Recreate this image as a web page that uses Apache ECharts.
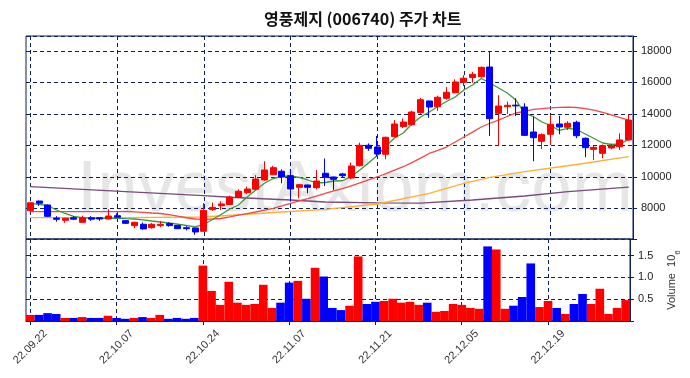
<!DOCTYPE html>
<html>
<head>
<meta charset="utf-8">
<script src="https://cdn.jsdelivr.net/npm/echarts@6/dist/echarts.min.js"></script>
<style>
  html, body { margin: 0; padding: 0; background: #fff; }
  #echarts-candle { width: 690px; height: 378px; }
</style>
</head>
<body>
<div id="echarts-candle"></div>
<script>
//----------------------Data----------------------
let date_list = ['22.09.22','22.09.23','22.09.26','22.09.27','22.09.28','22.09.29','22.09.30','22.10.04','22.10.05','22.10.06',
    '22.10.07','22.10.11','22.10.12','22.10.13','22.10.14','22.10.17','22.10.18','22.10.19','22.10.20','22.10.21',
    '22.10.24','22.10.25','22.10.26','22.10.27','22.10.28','22.10.31','22.11.01','22.11.02','22.11.03','22.11.04',
    '22.11.07','22.11.08','22.11.09','22.11.10','22.11.11','22.11.14','22.11.15','22.11.16','22.11.17','22.11.18',
    '22.11.21','22.11.22','22.11.23','22.11.24','22.11.25','22.11.28','22.11.29','22.11.30','22.12.01','22.12.02',
    '22.12.05','22.12.06','22.12.07','22.12.08','22.12.09','22.12.12','22.12.13','22.12.14','22.12.15','22.12.16',
    '22.12.19','22.12.20','22.12.21','22.12.22','22.12.23','22.12.26','22.12.27','22.12.28','22.12.29','23.01.02'];

let open_list = [7850,8460,8210,7380,7240,7400,7110,7400,7400,7320,
    7530,7213,6900,6985,6770,6900,7030,6920,6770,6750,
    6540,7910,8165,8240,8700,8990,9207,9800,10133,10350,
    10070,9333,9480,9310,10222,9988,10180,9924,10705,12000,
    11892,11430,12548,13185,13310,14070,14813,14450,14985,15340,
    16000,16300,16355,16970,14030,14450,14550,14430,12845,12255,
    12700,13353,13145,13460,12445,11745,11490,11830,11910,12340];
let close_list = [8350,8320,7490,7300,7365,7310,7400,7310,7320,7510,
    7430,7047,7110,6690,6985,6985,6900,6705,6705,6495,
    7870,8060,8273,8720,9080,9225,9860,10432,10580,9990,
    9225,9500,9333,9733,9968,9840,10070,10686,12000,11810,
    11448,12508,13353,13480,14115,14896,14430,15050,15366,16020,
    16260,16510,16950,13690,14495,14540,14500,12630,12483,12675,
    13334,13163,13400,12610,11850,11870,11975,11975,12340,13600];
let low_list = [7840,8150,7460,7150,7080,7250,7100,7200,7200,7300,
    7400,7000,6730,6650,6700,6800,6830,6690,6600,6320,
    6495,7850,7890,8200,8650,8900,9150,9750,10100,9590,
    8422,8635,8950,9200,9415,9162,9950,9850,10650,11650,
    11300,11110,12500,13100,13250,14000,13753,14180,14900,15300,
    15760,15975,16300,12590,11956,13990,13860,12590,10985,11765,
    12040,12700,12972,12450,11240,11066,11175,11750,11700,12300];
let high_list = [8380,8480,8240,7500,7400,7500,7530,7500,7450,7936,
    7680,7250,7150,7100,7060,7190,7110,6940,6860,6770,
    8320,8360,8445,8800,9200,9380,10100,10985,10700,10476,
    10432,9520,9500,10430,11160,10000,10250,10900,12166,12120,
    12590,12550,13600,13700,14200,15000,14850,15150,15700,16190,
    16450,16650,17000,17990,15175,14770,14985,14670,13815,12750,
    13945,13880,13524,13560,12500,11950,12050,12100,12760,13970];

// volume, unit 10^6 shares
let volume_list = [0.14,0.14,0.18,0.16,0.07,0.07,0.09,0.07,0.07,0.12,
    0.07,0.05,0.07,0.09,0.07,0.14,0.05,0.07,0.05,0.07,
    1.27,0.69,0.37,0.90,0.42,0.37,0.39,0.83,0.30,0.42,
    0.88,0.92,0.51,1.22,1.02,0.30,0.25,0.35,1.48,0.39,
    0.44,0.46,0.51,0.42,0.44,0.37,0.42,0.21,0.23,0.39,
    0.37,0.30,0.28,1.71,1.64,0.28,0.35,0.55,1.32,0.32,
    0.46,0.30,0.16,0.39,0.62,0.39,0.74,0.16,0.30,0.48];

let ma5_list = [8317,8250,8178,7892,7670,7480,7403,7380,7365,7365,
    7365,7340,7320,7260,7194,7130,7067,7000,6908,6813,
    6971,7289,7606,7955,8210,8717,9162,9587,9892,10019,
    10051,9956,9797,9607,9638,9733,9750,10019,10432,10877,
    11353,11956,12464,12782,13353,13798,14115,14464,14782,15068,
    15512,15830,16242,15956,15639,15322,14877,14032,13830,13480,
    13258,12940,13080,13004,12718,12432,12146,12050,12083,12380];
let ma20_list = [7784,7784,7784,7784,7784,7784,7784,7784,7784,7784,
    7784,7797,7770,7740,7700,7670,7600,7500,7400,7320,
    7300,7320,7352,7448,7560,7660,7765,7880,8000,8150,
    8317,8470,8620,8780,8940,9100,9250,9420,9607,9800,
    9988,10200,10420,10640,10900,11190,11480,11680,11890,12210,
    12525,12840,13160,13400,13600,13830,14050,14160,14275,14330,
    14380,14410,14420,14400,14330,14240,14090,13925,13760,13600];
// slow averages read at a few days only
let ma60_day = [0,11,20,29,34,40,46,50,53,57,63,69];
let ma60_val = [7403,7403,7448,7765,7937,8273,8952,9587,9968,10324,10781,11277];
let ma120_day = [0,11,20,23,30,34,40,45,51,57,62,69];
let ma120_val = [9372,9054,8800,8700,8527,8400,8350,8330,8527,8780,9054,9350];

let title_text = '영풍제지 (006740) 주가 차트';
let volume_name = '{n|Volume  10}{s|6}';

//--------------------Location--------------------
let lef_chart = 26;
let rig_chart = 57;
let top_price = 36;
let hei_price = 203;
let top_volume = 239;
let hei_volume = 82;

let navy = '#0d1f5e';
let up_color = '#ff0000';
let down_color = '#0000ff';
let font_main = 'Liberation Sans, Arial, sans-serif';

// Get dom in html
let candle_chart_dom = document.getElementById('echarts-candle');
let candle_chart = echarts.init(candle_chart_dom);

//---------------------Series data---------------------
let candle_data = [];
let volume_data = [];
for (let i = 0; i < date_list.length; i++) {
    candle_data.push([open_list[i], close_list[i], low_list[i], high_list[i]]);
    volume_data.push({
        value: volume_list[i],
        itemStyle: {color: close_list[i] >= open_list[i] ? up_color : down_color}
    });
}
let ma60_data = ma60_day.map(function (d, k) { return [d, ma60_val[k]]; });
let ma120_data = ma120_day.map(function (d, k) { return [d, ma120_val[k]]; });

function every_ten(index) {
    return index % 10 === 0;
}

//----------------------Axis----------------------
let dash_line = {
    show: true,
    interval: every_ten,
    alignWithLabel: true,
    lineStyle: {color: navy, type: [4, 3], width: 1}
};
let price_xAxis = {
    type: 'category',
    gridIndex: 0,
    data: date_list,
    boundaryGap: true,
    axisLine: {show: false},
    axisTick: {show: false, alignWithLabel: true, interval: every_ten},
    axisLabel: {show: false},
    splitLine: dash_line
};
let volume_xAxis = {
    type: 'category',
    gridIndex: 1,
    data: date_list,
    boundaryGap: true,
    axisLine: {show: true, lineStyle: {color: navy}},
    axisTick: {show: true, alignWithLabel: true, interval: every_ten, length: 4, lineStyle: {color: navy}},
    axisLabel: {
        show: true,
        interval: every_ten,
        rotate: 45,
        align: 'center',
        verticalAlign: 'middle',
        margin: 26,
        fontSize: 11,
        fontFamily: font_main,
        color: '#333'
    },
    splitLine: dash_line
};
let price_yAxis = {
    type: 'value',
    gridIndex: 0,
    position: 'right',
    min: 6050,
    max: 18940,
    splitNumber: 6,
    axisLine: {show: true, lineStyle: {color: navy}},
    axisTick: {show: true, length: 4, lineStyle: {color: navy}},
    axisLabel: {
        margin: 8,
        fontSize: 11,
        fontFamily: font_main,
        color: '#222',
        formatter: function (value) {
            if (value % 2000 === 0) return value;
            return '';
        }
    },
    splitLine: {show: true, lineStyle: {color: navy, type: [4, 3]}}
};
let volume_yAxis = {
    type: 'value',
    gridIndex: 1,
    position: 'right',
    min: 0,
    max: 1.88,
    splitNumber: 4,
    axisLine: {show: true, lineStyle: {color: navy}},
    axisTick: {show: true, length: 4, lineStyle: {color: navy}},
    axisLabel: {
        margin: 8,
        fontSize: 11,
        fontFamily: font_main,
        color: '#222',
        formatter: function (value) {
            if (value > 0 && value < 1.8) return value.toFixed(1);
            return '';
        }
    },
    splitLine: {show: true, lineStyle: {color: navy, type: [4, 3]}},
    name: volume_name,
    nameLocation: 'middle',
    nameRotate: 90,
    nameGap: 36,
    nameTextStyle: {
        rich: {
            n: {fontSize: 11, fontFamily: font_main, color: '#333', lineHeight: 16, verticalAlign: 'top'},
            s: {fontSize: 8, fontFamily: font_main, color: '#333', lineHeight: 16, verticalAlign: 'bottom'}
        }
    }
};

//---------------------Series---------------------
function ma_line(name, data, color) {
    return {
        name: name,
        type: 'line',
        xAxisIndex: 0,
        yAxisIndex: 0,
        data: data,
        symbol: 'none',
        connectNulls: true,
        lineStyle: {color: color, width: 1.3},
        z: 3
    };
}
let series_list = [
    ma_line('MA120', ma120_data, '#7a4a7a'),
    ma_line('MA60', ma60_data, '#ffb030'),
    ma_line('MA20', ma20_list, '#f04848'),
    ma_line('MA5', ma5_list, '#3a9a3a'),
    {
        name: 'price',
        type: 'candlestick',
        xAxisIndex: 0,
        yAxisIndex: 0,
        data: candle_data,
        barWidth: 6.5,
        itemStyle: {
            color: up_color,
            color0: down_color,
            borderColor: up_color,
            borderColor0: down_color,
            borderWidth: 1
        },
        z: 4
    },
    {
        name: 'volume',
        type: 'bar',
        xAxisIndex: 1,
        yAxisIndex: 1,
        data: volume_data,
        barWidth: '100%',
        barCategoryGap: 0
    }
];

//------------------Generate Graph------------------
let chart_candle_option = {
    backgroundColor: '#fff',
    animation: false,
    title: {
        text: title_text,
        left: 259,
        top: 6,
        textStyle: {
            fontFamily: 'Noto Sans CJK KR',
            fontSize: 16,
            fontWeight: 'bold',
            color: '#111'
        }
    },
    graphic: [{
        type: 'text',
        z: -10,
        silent: true,
        style: {
            text: 'InvestAxiom.com',
            x: 77,
            y: 191,
            textVerticalAlign: 'middle',
            font: '73px Liberation Sans',
            fill: '#e6e6e6'
        }
    }],
    grid: [
        {left: lef_chart, right: rig_chart, top: top_price, height: hei_price,
            show: true, borderColor: navy, borderWidth: 1, backgroundColor: 'transparent'},
        {left: lef_chart, right: rig_chart, top: top_volume, height: hei_volume,
            show: true, borderColor: navy, borderWidth: 1, backgroundColor: 'transparent'}
    ],
    xAxis: [price_xAxis, volume_xAxis],
    yAxis: [price_yAxis, volume_yAxis],
    series: series_list
};
if (chart_candle_option && typeof chart_candle_option === 'object') {
    candle_chart.setOption(chart_candle_option, true);
}
</script>
</body>
</html>
